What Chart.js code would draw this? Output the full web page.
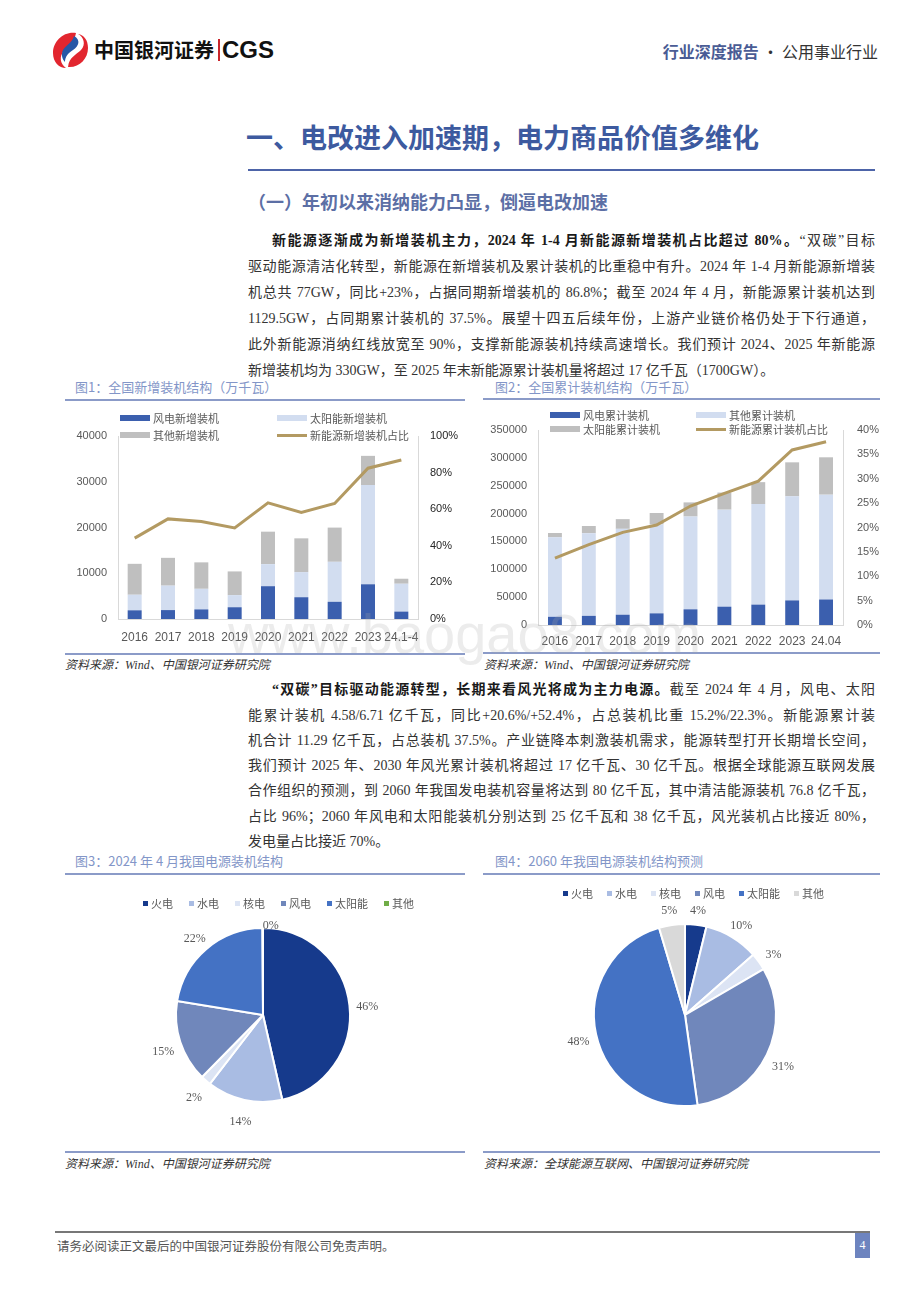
<!DOCTYPE html>
<html lang="zh-CN">
<head>
<meta charset="utf-8">
<title>电改进入加速期，电力商品价值多维化</title>
<script src="https://cdn.jsdelivr.net/npm/chart.js@4.4.1/dist/chart.umd.min.js"></script>
<style>
body { margin: 0; background: #fff; }
#page { position: relative; width: 920px; height: 1302px; overflow: hidden; background: #fff;
        font-family: "Liberation Serif", "Noto Sans CJK SC", serif; color: #333; }
.abs { position: absolute; }
.txt { position: absolute; left: 248px; width: 627px; height: 26px; line-height: 26px; font-size: 14px;
       text-align: justify; text-align-last: justify; color: #333; }
.txt.first { left: 272px; width: 603px; }
.txt.last { text-align: left; text-align-last: left; }
.txt b { color: #1a1a1a; }
.figt { position: absolute; font-family: "Noto Sans CJK SC", sans-serif; font-size: 13px; color: #8396c8; line-height: 18px; }
.rule { position: absolute; height: 1.5px; background: #8b9bc8; }
.src { position: absolute; font-size: 12px; font-style: italic; color: #333; line-height: 16px; }
.sw { position: absolute; }
.lg { position: absolute; font-family: "Noto Sans CJK SC", sans-serif; font-size: 11px; color: #595959; line-height: 16px; white-space: nowrap; }
.plg { position: absolute; display: flex; font-family: "Noto Sans CJK SC", sans-serif; font-size: 11px; color: #595959; line-height: 16px; white-space: nowrap; }
.plg span { display: flex; align-items: center; }
.plg i { display: inline-block; width: 5px; height: 5px; margin-right: 3px; }
canvas { position: absolute; }
</style>
</head>
<body>
<div id="page">
  <!-- 页眉 -->
  <svg class="abs" style="left:50px;top:31px" width="40" height="38" viewBox="0 0 40 38">
    <path d="M26 2 C14 0 3 10 3 22 C3 31 9 37 16 37 C10 33 9 25 14 20 C19 15 24 12 26 2 Z" fill="#e2262f"/>
    <path d="M28 3 C34 6 36 14 31 19 C26 24 19 26 18 36 C29 37 38 28 38 17 C38 9 34 4 28 3 Z" fill="#e2262f"/>
    <path d="M24 5 C22 12 16 14 13 19 C11 23 12 28 15 31 C15 26 18 22 23 19 C29 15 31 9 24 5 Z" fill="#2757a6"/>
  </svg>
  <div class="abs" style="left:94px;top:36px;font-family:'Noto Sans CJK SC';font-weight:700;font-size:20px;line-height:28px;color:#111">中国银河证券</div>
  <div class="abs" style="left:218px;top:39px;width:1.5px;height:22px;background:#c9262c"></div>
  <div class="abs" style="left:222px;top:35px;font-family:'Liberation Sans';font-weight:700;font-size:24px;line-height:30px;color:#111">CGS</div>
  <div class="abs" style="right:42px;top:40px;font-family:'Noto Sans CJK SC';font-size:16px;line-height:22px;color:#333"><span style="color:#4a5c95;font-weight:700">行业深度报告</span> · 公用事业行业</div>

  <div class="abs" style="left:246px;top:118px;font-family:'Noto Sans CJK SC';font-weight:700;font-size:27px;line-height:38px;color:#3d5a9f">一、电改进入加速期，电力商品价值多维化</div>
  <div class="abs" style="left:248px;top:169px;width:627px;height:2px;background:#4d64a8"></div>
  <div class="abs" style="left:248px;top:189px;font-family:'Noto Sans CJK SC';font-weight:700;font-size:18px;line-height:24px;color:#5c6fa5">（一）年初以来消纳能力凸显，倒逼电改加速</div>

  <div class="txt first" style="top:228px"><b>新能源逐渐成为新增装机主力，2024 年 1-4 月新能源新增装机占比超过 80%。</b>“双碳”目标</div>
  <div class="txt" style="top:254px">驱动能源清洁化转型，新能源在新增装机及累计装机的比重稳中有升。2024 年 1-4 月新能源新增装</div>
  <div class="txt" style="top:280px">机总共 77GW，同比+23%，占据同期新增装机的 86.8%；截至 2024 年 4 月，新能源累计装机达到</div>
  <div class="txt" style="top:306px">1129.5GW，占同期累计装机的 37.5%。展望十四五后续年份，上游产业链价格仍处于下行通道，</div>
  <div class="txt" style="top:332px">此外新能源消纳红线放宽至 90%，支撑新能源装机持续高速增长。我们预计 2024、2025 年新能源</div>
  <div class="txt last" style="top:358px">新增装机均为 330GW，至 2025 年末新能源累计装机量将超过 17 亿千瓦（1700GW）。</div>

  <div class="figt" style="left:75px;top:378px">图1：全国新增装机结构（万千瓦）</div>
  <div class="rule" style="left:65px;top:399px;width:400px"></div>
  <div class="figt" style="left:495px;top:378px">图2：全国累计装机结构（万千瓦）</div>
  <div class="rule" style="left:483px;top:398px;width:397px"></div>

  <canvas id="newChart" width="400" height="250" style="left:65px;top:402px"></canvas>
  <canvas id="cumChart" width="397" height="250" style="left:483px;top:402px"></canvas>

  <div class="rule" style="left:65px;top:653px;width:400px"></div>
  <div class="rule" style="left:483px;top:652px;width:397px"></div>
  <div class="src" style="left:65px;top:657px">资料来源：Wind、中国银河证券研究院</div>
  <div class="src" style="left:484px;top:657px">资料来源：Wind、中国银河证券研究院</div>

  <div class="txt first" style="top:677px"><b>“双碳”目标驱动能源转型，长期来看风光将成为主力电源。</b>截至 2024 年 4 月，风电、太阳</div>
  <div class="txt" style="top:703px">能累计装机 4.58/6.71 亿千瓦，同比+20.6%/+52.4%，占总装机比重 15.2%/22.3%。新能源累计装</div>
  <div class="txt" style="top:728px">机合计 11.29 亿千瓦，占总装机 37.5%。产业链降本刺激装机需求，能源转型打开长期增长空间，</div>
  <div class="txt" style="top:753px">我们预计 2025 年、2030 年风光累计装机将超过 17 亿千瓦、30 亿千瓦。根据全球能源互联网发展</div>
  <div class="txt" style="top:778px">合作组织的预测，到 2060 年我国发电装机容量将达到 80 亿千瓦，其中清洁能源装机 76.8 亿千瓦，</div>
  <div class="txt" style="top:804px">占比 96%；2060 年风电和太阳能装机分别达到 25 亿千瓦和 38 亿千瓦，风光装机占比接近 80%，</div>
  <div class="txt last" style="top:829px">发电量占比接近 70%。</div>

  <div class="figt" style="left:75px;top:852px">图3：2024 年 4 月我国电源装机结构</div>
  <div class="rule" style="left:65px;top:873px;width:400px"></div>
  <div class="figt" style="left:495px;top:852px">图4：2060 年我国电源装机结构预测</div>
  <div class="rule" style="left:483px;top:873px;width:397px"></div>

  <canvas id="pie2024" width="400" height="265" style="left:65px;top:880px"></canvas>
  <canvas id="pie2060" width="397" height="265" style="left:483px;top:880px"></canvas>

  <div class="rule" style="left:65px;top:1151px;width:400px"></div>
  <div class="rule" style="left:483px;top:1151px;width:397px"></div>
  <div class="src" style="left:65px;top:1156px">资料来源：Wind、中国银河证券研究院</div>
  <div class="src" style="left:484px;top:1156px">资料来源：全球能源互联网、中国银河证券研究院</div>

  <!-- 页脚 -->
  <div class="abs" style="left:55px;top:1231px;width:815px;height:2px;background:#777"></div>
  <div class="abs" style="left:57px;top:1238px;font-family:'Noto Sans CJK SC';font-size:12.5px;line-height:16px;color:#555">请务必阅读正文最后的中国银河证券股份有限公司免责声明。</div>
  <div class="abs" style="left:855px;top:1233px;width:15px;height:25px;background:#6d84bf;color:#fff;font-size:12px;line-height:25px;text-align:center">4</div>

  <div class="abs" style="left:228px;top:606px;font-family:'Liberation Sans';font-size:56px;line-height:56px;color:rgba(170,170,170,0.22);pointer-events:none;white-space:nowrap">www.baogao8.com</div>
</div>

<script>
// 图1：全国新增装机结构（万千瓦）
const newYears = ['2016', '2017', '2018', '2019', '2020', '2021', '2022', '2023', '24.1-4'];
const windNew = [1900, 1950, 2100, 2570, 7170, 4760, 3760, 7590, 1620];
const solarNew = [3400, 5340, 4500, 2650, 4820, 5490, 8740, 21690, 6090];
const otherNew = [6760, 6080, 5780, 5180, 7100, 7380, 7480, 6380, 1090];
const shareNew = [44.2, 54.7, 53.3, 49.8, 63.5, 58.2, 63.1, 82.4, 86.9];
const newLeftTicks = [0, 10000, 20000, 30000, 40000];
const newRightTicks = [0, 20, 40, 60, 80, 100];

// 图2：全国累计装机结构（万千瓦）
const cumYears = ['2016', '2017', '2018', '2019', '2020', '2021', '2022', '2023', '24.04'];
const windCum = [14750, 16370, 18430, 20920, 28150, 32850, 36540, 44130, 45800];
const otherCum = [142600, 148300, 154120, 159630, 166570, 174180, 180600, 186890, 188100];
const solarCum = [7740, 13030, 17450, 20470, 25340, 30660, 39260, 60950, 67100];
const shareCum = [13.7, 16.5, 19.0, 20.5, 24.4, 27.0, 29.5, 35.9, 37.6];
const cumLeftTicks = [0, 50000, 100000, 150000, 200000, 250000, 300000, 350000];
const cumRightTicks = [0, 5, 10, 15, 20, 25, 30, 35, 40];

// 图3 / 图4：电源装机结构（%）
const sources = ['火电', '水电', '核电', '风电', '太阳能', '其他'];
const mix2024 = [46.4, 14.0, 1.9, 15.2, 22.3, 0.1];
const mix2060 = [3.8, 9.7, 3.1, 31.2, 47.6, 4.6];

// 颜色
const WIND = '#3b5fae', LIGHT = '#d2ddf0', GRAY = '#bfbfbf', GOLD = '#b39a62';
const pieColors2024 = ['#163a8c', '#a9bce3', '#dce4f4', '#7087bb', '#4472c4', '#70ad47'];
const pieColors2060 = ['#163a8c', '#a9bce3', '#dce4f4', '#7087bb', '#4472c4', '#d9d9d9'];

Chart.defaults.font.family = '"Liberation Sans", "Noto Sans CJK SC", sans-serif';
Chart.defaults.color = '#595959';

const page = document.getElementById('page');

function addLegend(items) {
    items.forEach(it => {
        const sw = document.createElement('div');
        sw.className = 'sw';
        sw.style.cssText = `left:${it.x}px;top:${it.y - it.h / 2}px;width:30px;height:${it.h}px;background:${it.color}`;
        page.appendChild(sw);
        const tx = document.createElement('div');
        tx.className = 'lg';
        tx.style.cssText = `left:${it.x + 33}px;top:${it.y - 8}px`;
        tx.textContent = it.label;
        page.appendChild(tx);
    });
}

function pieLegend(left, top, gap, colors) {
    const box = document.createElement('div');
    box.className = 'plg';
    box.style.cssText = `left:${left}px;top:${top}px;gap:${gap}px`;
    sources.forEach((name, i) => {
        const it = document.createElement('span');
        it.innerHTML = `<i style="background:${colors[i]}"></i>${name}`;
        box.appendChild(it);
    });
    page.appendChild(box);
}

// 固定刻度
const fixTicks = arr => scale => { scale.ticks = arr.map(v => ({ value: v })); };

function barLineChart(id, labels, stacks, line, leftTicks, rightTicks, geo) {
    const datasets = stacks.map(s => ({
        type: 'bar', label: s.label, data: s.data, backgroundColor: s.color,
        stack: 's', order: 1, barPercentage: geo.bar, categoryPercentage: 1
    }));
    datasets.push({
        type: 'line', label: line.label, data: line.data, yAxisID: 'y1',
        borderColor: GOLD, borderWidth: 3, pointRadius: 0, fill: false, tension: 0, order: 0
    });
    return new Chart(document.getElementById(id), {
        type: 'bar',
        data: { labels: labels, datasets: datasets },
        options: {
            responsive: false,
            animation: false,
            layout: { padding: { top: geo.top } },
            plugins: { legend: { display: false }, tooltip: { enabled: false } },
            scales: {
                x: {
                    stacked: true,
                    grid: { display: false, drawTicks: false },
                    border: { color: '#d9d9d9' },
                    ticks: { font: { size: 12 }, color: '#595959', padding: geo.xPad, maxRotation: 0, autoSkip: false },
                    afterFit: s => { s.height = geo.xH; }
                },
                y: {
                    stacked: true, min: 0, max: leftTicks[leftTicks.length - 1],
                    grid: { display: false, drawTicks: false },
                    border: { color: '#d9d9d9' },
                    afterBuildTicks: fixTicks(leftTicks),
                    ticks: { font: { size: 11 }, color: '#595959', padding: 11, callback: v => String(v) },
                    afterFit: s => { s.width = geo.yW; }
                },
                y1: {
                    position: 'right', min: 0, max: rightTicks[rightTicks.length - 1],
                    grid: { display: false, drawTicks: false },
                    border: { color: '#d9d9d9' },
                    afterBuildTicks: fixTicks(rightTicks),
                    ticks: { font: { size: 11 }, color: geo.rColor, padding: geo.rPad, callback: v => v + '%' },
                    afterFit: s => { s.width = geo.y1W; }
                }
            }
        }
    });
}

barLineChart('newChart', newYears, [
    { label: '风电新增装机', data: windNew, color: WIND },
    { label: '太阳能新增装机', data: solarNew, color: LIGHT },
    { label: '其他新增装机', data: otherNew, color: GRAY }
], { label: '新能源新增装机占比', data: shareNew }, newLeftTicks, newRightTicks,
{ bar: 0.42, top: 34, xH: 33, xPad: 11, yW: 53, y1W: 47, rPad: 12, rColor: '#262626' });

addLegend([
    { x: 120, y: 418, h: 6, color: WIND, label: '风电新增装机' },
    { x: 277, y: 418, h: 6, color: LIGHT, label: '太阳能新增装机' },
    { x: 120, y: 435, h: 6, color: GRAY, label: '其他新增装机' },
    { x: 277, y: 435, h: 3, color: GOLD, label: '新能源新增装机占比' }
]);

barLineChart('cumChart', cumYears, [
    { label: '风电累计装机', data: windCum, color: WIND },
    { label: '其他累计装机', data: otherCum, color: LIGHT },
    { label: '太阳能累计装机', data: solarCum, color: GRAY }
], { label: '新能源累计装机占比', data: shareCum }, cumLeftTicks, cumRightTicks,
{ bar: 0.41, top: 28, xH: 27, xPad: 9, yW: 55, y1W: 37, rPad: 14, rColor: '#595959' });

addLegend([
    { x: 550, y: 415, h: 6, color: WIND, label: '风电累计装机' },
    { x: 696, y: 415, h: 6, color: LIGHT, label: '其他累计装机' },
    { x: 550, y: 429, h: 6, color: GRAY, label: '太阳能累计装机' },
    { x: 696, y: 429, h: 3, color: GOLD, label: '新能源累计装机占比' }
]);

// 饼图外侧百分比（极小扇区的标签贴近饼边、左对齐）
const pieLabels = {
    id: 'pieLabels',
    afterDatasetsDraw(chart) {
        const ctx = chart.ctx;
        const data = chart.data.datasets[0].data;
        const total = data.reduce((a, b) => a + b, 0);
        ctx.save();
        ctx.font = '12px "Liberation Serif", serif';
        ctx.fillStyle = '#595959';
        ctx.textBaseline = 'middle';
        chart.getDatasetMeta(0).data.forEach((arc, i) => {
            const mid = (arc.startAngle + arc.endAngle) / 2;
            const tiny = data[i] / total < 0.01;
            const r = arc.outerRadius + (tiny ? 6 : 18);
            ctx.textAlign = tiny ? 'left' : 'center';
            ctx.fillText(Math.round(data[i] / total * 100) + '%',
                arc.x + Math.cos(mid) * r, arc.y + Math.sin(mid) * r + 4);
        });
        ctx.restore();
    }
};

function pieChart(id, values, colors, radius, pad) {
    return new Chart(document.getElementById(id), {
        type: 'pie',
        data: { labels: sources, datasets: [{ data: values, backgroundColor: colors, borderColor: '#fff', borderWidth: 2 }] },
        options: {
            responsive: false,
            animation: false,
            radius: radius,
            layout: { padding: pad },
            plugins: { legend: { display: false }, tooltip: { enabled: false } }
        },
        plugins: [pieLabels]
    });
}

pieChart('pie2024', mix2024, pieColors2024, 87, { left: 0, right: 4, top: 5, bottom: 0 });
pieChart('pie2060', mix2060, pieColors2060, 91, { left: 7, right: 0, top: 5, bottom: 0 });
pieLegend(143, 895, 16, pieColors2024);
pieLegend(563, 885, 14, pieColors2060);
</script>
</body>
</html>
